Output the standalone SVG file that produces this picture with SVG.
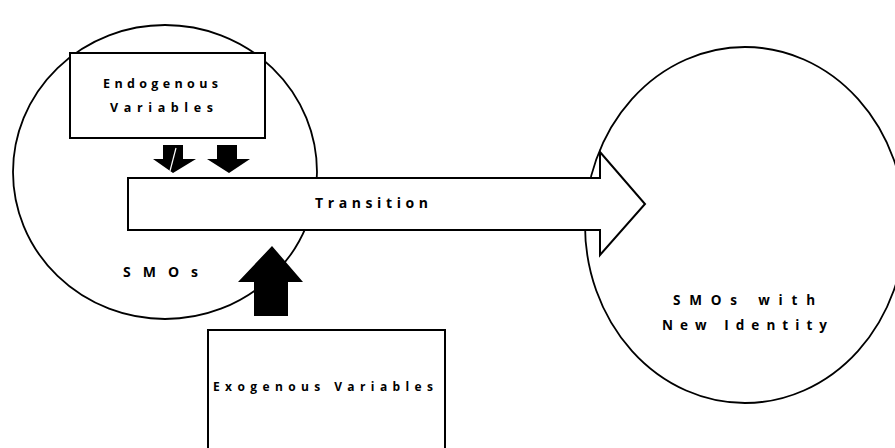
<svg xmlns="http://www.w3.org/2000/svg" width="895" height="448" viewBox="0 0 895 448">
  <style>
    .bg { fill: #ffffff; }
    .ring { fill: none; stroke: #000; stroke-width: 1.8; }
    .box { fill: #fff; stroke: #000; stroke-width: 2; }
    .block { fill: #000; stroke: none; }
    .label { font-family: "Open Sans", "DejaVu Sans", sans-serif; font-weight: bold; fill: #000; }
  </style>
  <rect class="bg" x="0" y="0" width="895" height="448"/>

  <!-- SMOs circle -->
  <g id="smos">
    <ellipse class="ring" cx="165" cy="172" rx="152" ry="147"/>
    <text class="label" x="123" y="277" font-size="14" textLength="75" lengthAdjust="spacing">SMOs</text>
  </g>

  <!-- SMOs with new identity circle -->
  <g id="smos-new">
    <ellipse class="ring" cx="745" cy="225" rx="160" ry="178"/>
    <text class="label" x="673" y="305" font-size="13.5" textLength="142" lengthAdjust="spacing">SMOs with</text>
    <text class="label" x="662" y="330" font-size="13.5" textLength="165" lengthAdjust="spacing">New Identity</text>
  </g>

  <!-- Endogenous variables box -->
  <g id="endogenous">
    <rect class="box" x="70" y="53" width="195" height="85"/>
    <text class="label" x="103" y="88" font-size="12.5" textLength="115" lengthAdjust="spacing">Endogenous</text>
    <text class="label" x="110" y="112" font-size="12.5" textLength="103" lengthAdjust="spacing">Variables</text>
  </g>

  <!-- Exogenous variables box (open at the bottom edge) -->
  <g id="exogenous">
    <path class="box" d="M208,448 V330 H445 V448"/>
    <text class="label" x="213" y="391" font-size="12" textLength="220" lengthAdjust="spacing">Exogenous Variables</text>
  </g>

  <!-- Connectors -->
  <g id="connectors">
    <!-- endogenous influence arrows -->
    <polygon class="block" points="163,145 183,145 183,159 196,159 173,173 153,159 163,159"/>
    <line x1="176" y1="148" x2="170" y2="171" stroke="#fff" stroke-width="1.2"/>
    <polygon class="block" points="217,145 237,145 237,159 250,159 229,173 207,159 217,159"/>
    <!-- exogenous influence arrow -->
    <polygon class="block" points="272,246 303,282 288,282 288,316 254,316 254,282 238,282"/>
    <!-- transition arrow -->
    <g id="transition">
      <polygon class="box" points="128,178 600,178 600,152 645,204 600,255 600,230 128,230"/>
      <text class="label" x="315" y="208" font-size="14" textLength="113" lengthAdjust="spacing">Transition</text>
    </g>
  </g>
</svg>
